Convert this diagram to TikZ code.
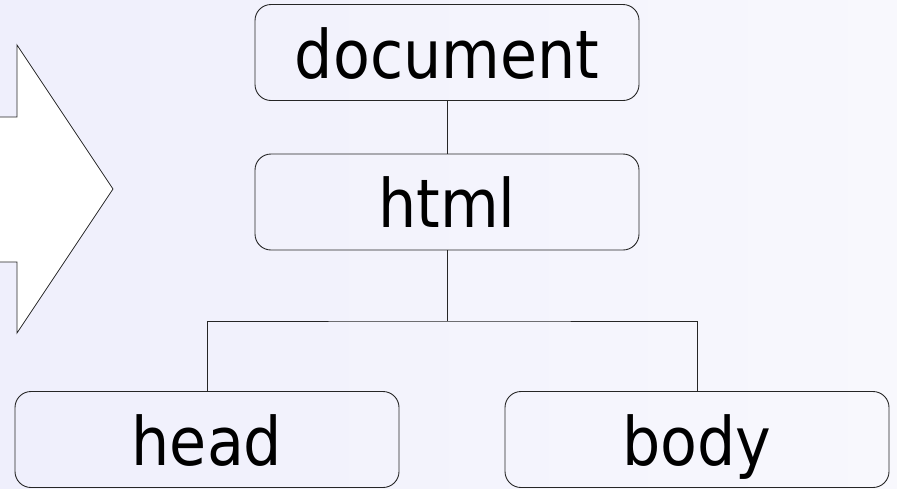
\documentclass[tikz,border=0pt]{standalone}
\usepackage{fontspec}
\setmainfont{DejaVu Sans Condensed}
\begin{document}
\begin{tikzpicture}[x=1pt,y=-1pt,
  treebox/.style={draw=black!85, line width=0.9pt, rounded corners=16pt,
    minimum width=384pt, minimum height=96pt, inner sep=0pt,
    text height=51pt, text depth=0pt, font=\fontsize{67pt}{67pt}\selectfont},
  link/.style={draw=black!85, line width=0.9pt}]
  \useasboundingbox (0,0) rectangle (897,488);
  \clip (0,0) rectangle (897,488);
  % soft lavender backdrop
  \shade[left color={rgb,255:red,239;green,239;blue,252},
         right color={rgb,255:red,248;green,248;blue,253}]
    (0,0) rectangle (897,488);
  % big block arrow pointing right
  \draw[fill=white, draw=black!85, line width=0.8pt]
    (-5,117) -- (17,117) -- (17,45) -- (113,189) -- (17,333)
    -- (17,262) -- (-5,262) -- cycle;
  % DOM tree
  \node[treebox] (doc)  at (447,52.5)  {document};
  \node[treebox] (html) at (447,202)   {html};
  \node[treebox] (head) at (207,439.5) {head};
  \node[treebox] (body) at (697,439.5) {body};
  \coordinate (fork) at (447,321);
  \draw[link] (doc) -- (html);
  \draw[link] (html) -- (fork);
  \draw[link] (head.north) |- (fork) -| (body.north);
\end{tikzpicture}
\end{document}
